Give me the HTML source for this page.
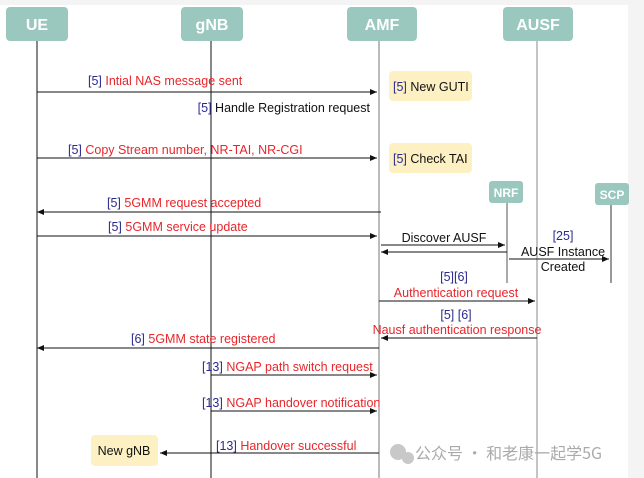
<!DOCTYPE html>
<html><head><meta charset="utf-8"><style>
html,body{margin:0;padding:0;background:#f4f4f4;}
svg{display:block;font-family:"Liberation Sans",Arial,sans-serif;}
.r{fill:#e8262b;font-size:12.5px}
.k{fill:#111;font-size:12.5px}
.b{fill:#2b2b8f}
.bb{fill:#2b2b8f;font-size:12.5px}
.h{fill:#fff;font-weight:bold;font-size:16px}
</style></head><body>
<svg width="644" height="478" viewBox="0 0 644 478">
<defs><marker id="a" markerWidth="8" markerHeight="8" refX="7" refY="4" orient="auto" markerUnits="userSpaceOnUse"><path d="M0,1 L7,4 L0,7 Z" fill="#111"/></marker></defs>
<rect x="0" y="5" width="628" height="473" fill="#fff"/>
<rect x="6" y="7" width="62" height="34" rx="4" fill="#9ac8bf"/>
<text x="37" y="30" class="h" text-anchor="middle">UE</text>
<rect x="181" y="7" width="62" height="34" rx="4" fill="#9ac8bf"/>
<text x="212" y="30" class="h" text-anchor="middle">gNB</text>
<rect x="347" y="7" width="70" height="34" rx="4" fill="#9ac8bf"/>
<text x="382" y="30" class="h" text-anchor="middle">AMF</text>
<rect x="503" y="7" width="70" height="34" rx="4" fill="#9ac8bf"/>
<text x="538" y="30" class="h" text-anchor="middle">AUSF</text>
<rect x="489" y="181" width="34" height="22" rx="3" fill="#9ac8bf"/>
<text x="506" y="197" fill="#fff" font-weight="bold" font-size="12" text-anchor="middle">NRF</text>
<rect x="595" y="183" width="34" height="22" rx="3" fill="#9ac8bf"/>
<text x="612" y="199" fill="#fff" font-weight="bold" font-size="12" text-anchor="middle">SCP</text>
<line x1="37" y1="41" x2="37" y2="478" stroke="#111"/>
<line x1="211" y1="41" x2="211" y2="478" stroke="#111"/>
<line x1="379" y1="41" x2="379" y2="478" stroke="#777"/>
<line x1="537" y1="41" x2="537" y2="478" stroke="#888"/>
<line x1="507" y1="203" x2="507" y2="283" stroke="#555"/>
<line x1="611" y1="205" x2="611" y2="283" stroke="#333"/>
<rect x="389" y="71" width="83" height="30" rx="4" fill="#fdf1c3"/>
<text x="393" y="91" class="k"><tspan class="b">[5]</tspan> New GUTI</text>
<rect x="389" y="143" width="83" height="30" rx="4" fill="#fdf1c3"/>
<text x="393" y="163" class="k"><tspan class="b">[5]</tspan> Check TAI</text>
<rect x="91" y="435" width="67" height="31" rx="4" fill="#fdf1c3"/>
<text x="124" y="455" class="k" text-anchor="middle">New gNB</text>
<g stroke="#111" fill="none" marker-end="url(#a)">
<line x1="37" y1="92" x2="377" y2="92"/>
<line x1="37" y1="158" x2="377" y2="158"/>
<line x1="381" y1="212" x2="37" y2="212"/>
<line x1="37" y1="236" x2="377" y2="236"/>
<line x1="381" y1="245" x2="505" y2="245"/>
<line x1="507" y1="252" x2="381" y2="252"/>
<line x1="509" y1="259" x2="609" y2="259"/>
<line x1="379" y1="301" x2="535" y2="301"/>
<line x1="537" y1="338" x2="381" y2="338"/>
<line x1="379" y1="348" x2="37" y2="348"/>
<line x1="211" y1="375" x2="377" y2="375"/>
<line x1="211" y1="411" x2="377" y2="411"/>
<line x1="379" y1="453" x2="160" y2="453"/>
</g>
<text x="88" y="85" class="r"><tspan class="b">[5]</tspan> Intial NAS message sent</text>
<text x="370" y="112" class="k" text-anchor="end"><tspan class="b">[5]</tspan> Handle Registration request</text>
<text x="68" y="154" class="r"><tspan class="b">[5]</tspan> Copy Stream number, NR-TAI, NR-CGI</text>
<text x="107" y="207" class="r"><tspan class="b">[5]</tspan> 5GMM request accepted</text>
<text x="108" y="231" class="r"><tspan class="b">[5]</tspan> 5GMM service update</text>
<text x="444" y="242" class="k" text-anchor="middle">Discover AUSF</text>
<text x="563" y="240" class="bb" text-anchor="middle">[25]</text>
<text x="563" y="256" class="k" text-anchor="middle">AUSF Instance</text>
<text x="563" y="271" class="k" text-anchor="middle">Created</text>
<text x="454" y="281" class="bb" text-anchor="middle">[5][6]</text>
<text x="456" y="297" class="r" text-anchor="middle">Authentication request</text>
<text x="456" y="319" class="bb" text-anchor="middle">[5] [6]</text>
<text x="457" y="334" class="r" text-anchor="middle">Nausf authentication response</text>
<text x="131" y="343" class="r"><tspan class="b">[6]</tspan> 5GMM state registered</text>
<text x="202" y="371" class="r"><tspan class="b">[13]</tspan> NGAP path switch request</text>
<text x="202" y="407" class="r"><tspan class="b">[13]</tspan> NGAP handover notification</text>
<text x="216" y="450" class="r"><tspan class="b">[13]</tspan> Handover successful</text>
<circle cx="398" cy="452" r="8" fill="#c8c8c8"/>
<circle cx="408" cy="458" r="6" fill="#c8c8c8"/>
<text x="415" y="459" fill="#aaa" font-size="16" font-family="'Noto Sans CJK SC',sans-serif">公众号 · 和老康一起学5G</text>
</svg>
</body></html>
